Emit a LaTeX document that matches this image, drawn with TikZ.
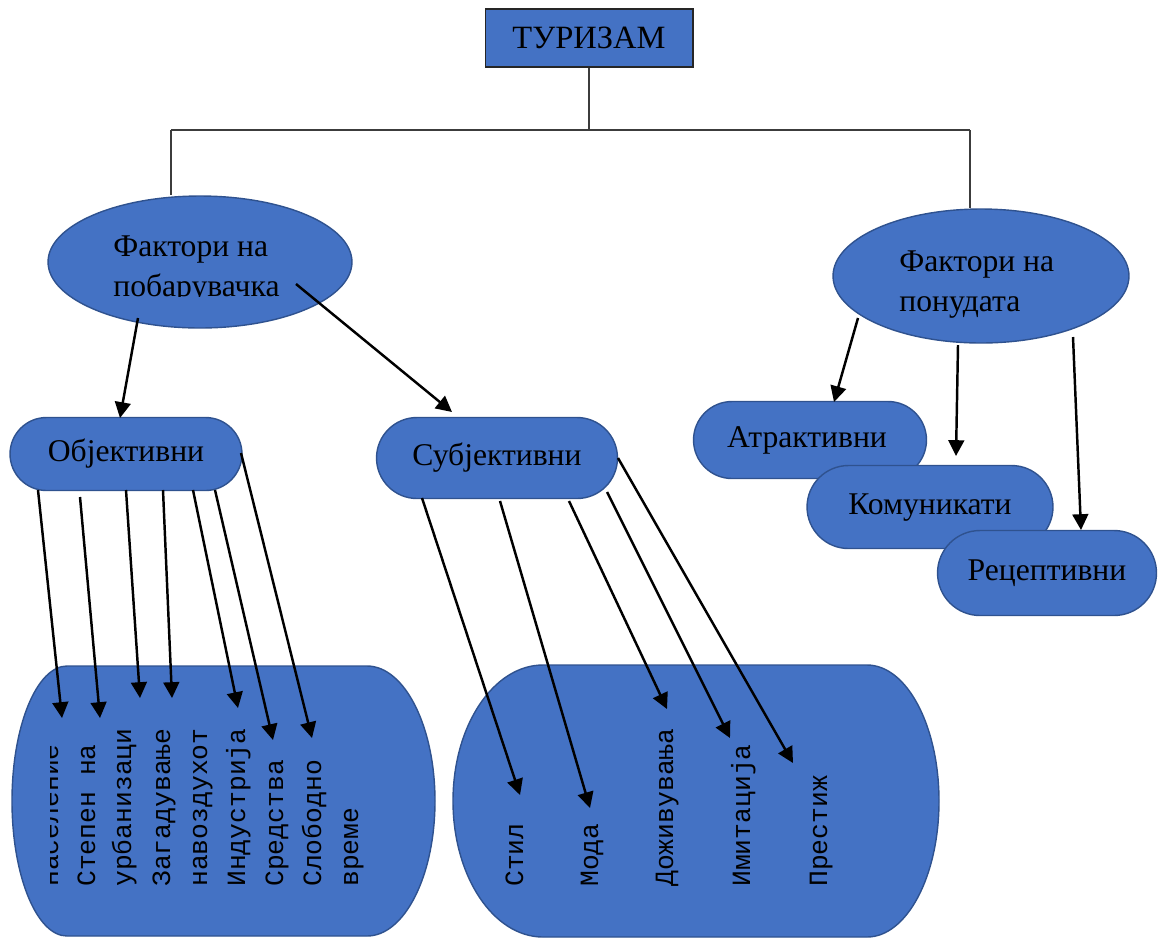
\documentclass[tikz,border=0pt]{standalone}
\usepackage{fontspec}
\setmainfont{Liberation Serif}
\setmonofont{Liberation Mono}
\usepackage{tikz}
\usetikzlibrary{shapes.geometric, shapes.misc, arrows.meta, positioning, calc}
\definecolor{wordBlue}{RGB}{68, 114, 196}
\definecolor{wordEdge}{RGB}{47, 82, 143}
\definecolor{wordLine}{RGB}{60, 60, 60}

\begin{document}
\begin{tikzpicture}[
    x=0.02cm, y=-0.02cm,
    topbox/.style={
        rectangle,
        draw=black!85,
        line width=0.6pt,
        fill=wordBlue,
        minimum width=4.16cm,
        minimum height=1.16cm,
        font=\fontsize{18.5}{21}\selectfont
    },
    factor/.style={
        ellipse,
        draw=wordEdge,
        line width=0.8pt,
        fill=wordBlue,
        inner sep=0pt
    },
    factortext/.style={
        align=left,
        inner sep=0pt,
        font=\fontsize{18}{22.8}\selectfont
    },
    kind/.style={
        rounded rectangle,
        draw=wordEdge,
        line width=0.8pt,
        fill=wordBlue,
        inner sep=0pt,
        text height=1.1em,
        text depth=0.2em,
        font=\fontsize{18}{21}\selectfont
    },
    kindtext/.style={
        inner sep=0pt,
        text height=1.1em,
        text depth=0.2em,
        font=\fontsize{18}{21}\selectfont
    },
    container/.style={
        draw=wordEdge,
        line width=0.8pt,
        fill=wordBlue
    },
    vword/.style={
        rotate=90,
        anchor=base west,
        inner sep=0pt,
        font=\ttfamily\fontsize{15}{18}\selectfont
    },
    arr/.style={-{Triangle[length=9pt, width=9pt]}, line width=1.4pt},
    treeline/.style={line width=0.6pt, wordLine}
]
    \useasboundingbox (0,0) rectangle (1159,938);

    % Top of the tree
    \node[topbox] (tour) at (589,38) {ТУРИЗАМ\hspace{0.44cm}};
    \coordinate (hubL) at (171,130);
    \coordinate (hubR) at (970,130);

    % Factors
    \node[factor, minimum width=6.08cm, minimum height=2.64cm] (demand) at (200,262) {};
    \node[factor, minimum width=5.92cm, minimum height=2.68cm] (supply) at (981,276) {};
    \begin{scope}
        \clip (40,150) rectangle (360,296);
        \node[factortext, anchor=west] (demandtext) at (113,270) {Фактори на\\побарувачка};
    \end{scope}
    \node[factortext, anchor=west] (supplytext) at (899,285) {Фактори на\\понудата};

    \draw[treeline] (tour.south) -- (tour.south |- hubL);
    \draw[treeline] (hubL) -- (hubR);
    \draw[treeline] (hubL) -- (hubL |- demand.north);
    \draw[treeline] (hubR) -- (hubR |- supply.north);

    % Kinds of factors
    \node[kind, minimum width=4.64cm, minimum height=1.46cm] (obj) at (126,454) {Објективни};
    \node[kind, minimum width=4.82cm, minimum height=1.62cm] (subj) at (497,458) {Субјективни};
    \node[kind, minimum width=4.66cm, minimum height=1.54cm] (attr) at (810,440) {};
    \begin{scope}
        \clip (700,400) rectangle (930,454);
        \node[kindtext] (attrtext) at (807,440) {Атрактивни};
    \end{scope}
    \node[kind, minimum width=4.92cm, minimum height=1.66cm] (comm) at (930,507) {Комуникати};
    \node[kind, minimum width=4.38cm, minimum height=1.70cm] (recep) at (1047,573) {Рецептивни};

    % Containers
    \draw[container] (67,666) -- (367,666)
        arc[start angle=-90, end angle=90, x radius=68, y radius=135]
        -- (67,936)
        arc[start angle=90, end angle=270, x radius=55, y radius=135] -- cycle;
    \draw[container] (543,665) -- (867,665)
        arc[start angle=-90, end angle=90, x radius=72, y radius=136]
        -- (543,937)
        arc[start angle=90, end angle=270, x radius=90, y radius=136] -- cycle;

    % Objective items
    \begin{scope}
        \clip (50,700) rectangle (70,900);
        \node[vword] (o1) at (58,887) {население};
    \end{scope}
    \foreach \x/\w [count=\i from 2] in {95/Степен на, 131/урбанизаци, 170/Загадување, 207/навоздухот, 245/Индустрија, 283/Средства, 321/Слободно, 358/време}
        \node[vword] (o\i) at (\x,887) {\w};

    % Subjective items
    \foreach \x/\w [count=\i] in {523/Стил, 598/Мода, 673/Доживувања, 750/Имитација, 827/Престиж}
        \node[vword] (s\i) at (\x,887) {\w};

    % Branches from the factors
    \foreach \sx/\sy/\tx/\ty [count=\i] in {138/318/120/418, 296/284/452/412, 858/318/834/402, 958/345/956/456, 1073/337/1081/530}{
        \coordinate (ba\i) at (\sx,\sy);
        \coordinate (bb\i) at (\tx,\ty);
        \draw[arr] (ba\i) -- (bb\i);
    }

    % Objective arrows
    \foreach \sx/\sy/\tx/\ty [count=\i] in {38/490/62/718, 80/497/100/718, 126/490/140/698, 163/490/172/698, 193/490/238/708, 215/490/273/740, 241/453/312/738}{
        \coordinate (oa\i) at (\sx,\sy);
        \coordinate (ob\i) at (\tx,\ty);
        \draw[arr] (oa\i) -- (ob\i);
    }

    % Subjective arrows
    \foreach \sx/\sy/\tx/\ty [count=\i] in {422/498/520/795, 500/501/590/808, 569/501/667/709, 607/492/730/738, 618/458/793/763}{
        \coordinate (sa\i) at (\sx,\sy);
        \coordinate (sb\i) at (\tx,\ty);
        \draw[arr] (sa\i) -- (sb\i);
    }

\end{tikzpicture}
\end{document}
